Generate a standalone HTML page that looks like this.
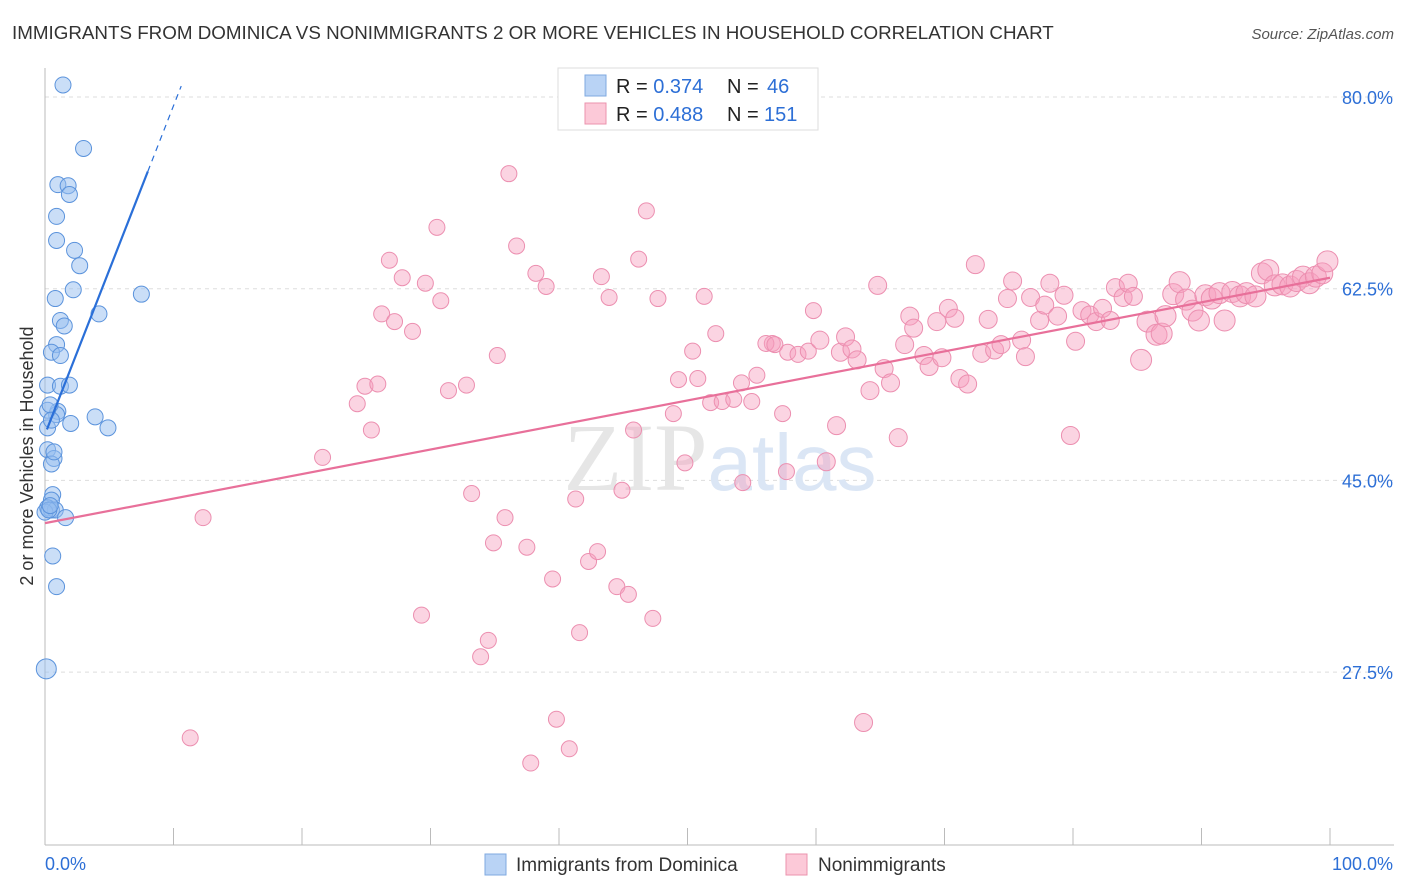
<!DOCTYPE html>
<html><head><meta charset="utf-8"><style>
body{margin:0;background:#fff;font-family:"Liberation Sans",sans-serif;}
svg{display:block}
</style></head><body>
<svg id="chart" width="1406" height="892" xmlns="http://www.w3.org/2000/svg">
<text x="12" y="39" font-size="18.8" fill="#333">IMMIGRANTS FROM DOMINICA VS NONIMMIGRANTS 2 OR MORE VEHICLES IN HOUSEHOLD CORRELATION CHART</text>
<text x="1394" y="39" font-size="15" fill="#555" font-style="italic" text-anchor="end">Source: ZipAtlas.com</text>
<g id="grid"></g>
<text x="720" y="490" font-size="96" text-anchor="middle" fill="#e6e6e6" font-family="Liberation Serif,serif">ZIP<tspan fill="#dbe6f5" font-family="Liberation Sans,sans-serif" font-size="80">atlas</tspan></text>
<g id="marks"></g>
<text transform="translate(33,456) rotate(-90)" font-size="18" fill="#333" text-anchor="middle">2 or more Vehicles in Household</text>
<g>
<rect x="558" y="68" width="260" height="62" fill="#fff" stroke="#ddd"/>
<rect x="585" y="75" width="21" height="21" fill="#b9d3f5" stroke="#7fa9e0"/>
<rect x="585" y="103" width="21" height="21" fill="#fcc9d8" stroke="#eb93ae"/>
<text x="616" y="93" font-size="20" fill="#222">R = <tspan fill="#2d6fd6">0.374</tspan><tspan x="727">N = </tspan><tspan x="767" fill="#2d6fd6">46</tspan></text>
<text x="616" y="121" font-size="20" fill="#222">R = <tspan fill="#2d6fd6">0.488</tspan><tspan x="727">N = </tspan><tspan x="764" fill="#2d6fd6">151</tspan></text>
</g>
<g>
<rect x="485" y="854" width="21" height="21" fill="#b9d3f5" stroke="#7fa9e0"/>
<text x="516" y="871" font-size="19" fill="#333">Immigrants from Dominica</text>
<rect x="786" y="854" width="21" height="21" fill="#fcc9d8" stroke="#eb93ae"/>
<text x="818" y="871" font-size="19" fill="#333">Nonimmigrants</text>
</g>
</svg>
<script>
const yTicks=[80,62.5,45,27.5];
const yTickLabels=["80.0%","62.5%","45.0%","27.5%"];
const blueX=[1.4,3.0,1.0,1.8,1.9,0.9,0.9,2.3,2.7,0.8,2.2,7.5,4.2,1.2,1.5,0.9,0.5,1.2,0.2,1.2,1.9,1.0,0.9,3.9,2.0,4.9,0.2,0.2,0.7,0.5,0.6,0.5,0.2,0.5,0.8,0.0,1.6,0.6,0.9,0.1,0.2,0.4,0.5,0.3,0.4,0.7];
const blueY=[81.1,75.3,72.0,71.9,71.1,69.1,66.9,66.0,64.6,61.6,62.4,62.0,60.2,59.6,59.1,57.4,56.7,56.4,53.7,53.6,53.7,51.3,51.0,50.8,50.2,49.8,49.8,47.8,47.0,46.5,43.7,43.2,42.5,42.3,42.3,42.1,41.6,38.1,35.3,27.8,51.4,51.9,50.5,42.3,42.7,47.6];
const pinkX=[36.1,46.8,30.5,36.7,26.8,46.2,38.2,27.8,43.3,39.0,29.6,43.9,30.8,47.7,51.3,26.2,27.2,28.6,35.2,52.2,50.4,24.9,25.9,24.3,31.4,32.8,25.4,21.6,12.3,33.2,35.8,34.9,37.5,41.3,44.9,39.5,42.3,43.0,44.5,45.4,47.3,29.3,34.5,33.9,41.6,39.8,40.8,37.8,11.3,63.7,45.8,48.9,49.8,49.3,50.8,51.8,52.7,53.6,54.2,55.0,55.4,56.6,56.1,56.8,57.8,58.6,59.4,59.8,60.3,61.6,61.9,62.3,62.8,63.2,64.2,65.3,65.8,66.4,64.8,66.9,67.3,67.6,68.4,68.8,69.4,69.8,70.3,70.8,71.2,71.8,72.4,72.9,73.4,73.9,74.4,74.9,75.3,76.0,76.3,76.7,77.4,77.8,78.2,78.8,79.3,79.8,80.2,80.7,81.3,81.8,82.3,82.9,83.3,83.9,84.3,84.7,85.3,85.8,86.5,86.9,87.2,87.8,88.3,88.8,89.3,89.8,90.3,90.8,91.4,91.8,92.4,93.0,93.5,94.2,94.7,95.2,95.7,96.3,96.9,97.4,97.9,98.4,98.9,99.4,99.8,57.7,54.3,60.8,57.4];
const pinkY=[73.0,69.6,68.1,66.4,65.1,65.2,63.9,63.5,63.6,62.7,63.0,61.7,61.4,61.6,61.8,60.2,59.5,58.6,56.4,58.4,56.8,53.6,53.8,52.0,53.2,53.7,49.6,47.1,41.6,43.8,41.6,39.3,38.9,43.3,44.1,36.0,37.6,38.5,35.3,34.6,32.4,32.7,30.4,28.9,31.1,23.2,20.5,19.2,21.5,22.9,49.6,51.1,46.6,54.2,54.3,52.1,52.2,52.4,53.9,52.2,54.6,57.5,57.5,57.4,56.7,56.5,56.8,60.5,57.8,50.0,56.7,58.1,57.0,56.0,53.2,55.2,53.9,48.9,62.8,57.4,60.0,58.9,56.4,55.4,59.5,56.2,60.7,59.8,54.3,53.8,64.7,56.6,59.7,56.9,57.4,61.6,63.2,57.8,56.3,61.7,59.6,61.0,63.0,60.0,61.9,49.1,57.7,60.5,60.1,59.5,60.7,59.6,62.6,61.7,63.0,61.8,56.0,59.5,58.3,58.4,60.0,62.0,63.1,61.5,60.5,59.6,61.9,61.6,62.1,59.6,62.2,61.8,62.1,61.8,63.9,64.2,62.8,62.9,62.7,63.2,63.6,63.0,63.6,63.9,65.0,45.8,44.8,46.7,51.1];
const blueTrend=[49.2,3.0];
const pinkTrend=[41.1,0.224];
const NS="http://www.w3.org/2000/svg";
const X0=45,X1=1330;
function xs(v){return X0+(X1-X0)*v/100;}
function ys(v){return 97+(80-v)*(191.7/17.5);}
function mk(tag,attrs,parent){const e=document.createElementNS(NS,tag);for(const k in attrs)e.setAttribute(k,attrs[k]);parent.appendChild(e);return e;}
const grid=document.getElementById('grid'),marks=document.getElementById('marks');
yTicks.forEach((t,i)=>{
 const l=mk('line',{x1:45,x2:1394,y1:ys(t),y2:ys(t),stroke:'#ddd','stroke-dasharray':'4,4'},grid);
 
 
 const tx=mk('text',{x:1393,y:ys(t)+7,'font-size':18,fill:'#2d6fd6','text-anchor':'end'},grid);
 tx.textContent=yTickLabels[i];
 
 
});
const ax=mk('line',{x1:45,x2:45,y1:68,y2:845,stroke:'#bbb'},grid);


const bx=mk('line',{x1:45,x2:1394,y1:845,y2:845,stroke:'#bbb'},grid);


for(let i=0;i<=10;i++){const t=mk('line',{x1:xs(i*10),x2:xs(i*10),y1:828,y2:845,stroke:'#bbb'},grid);
 
 }
[["0.0%",45,'start'],["100.0%",1393,'end']].forEach(a=>{const t=mk('text',{x:a[1],y:870,'font-size':18,fill:'#2d6fd6','text-anchor':a[2]},grid);t.textContent=a[0];
 
 });
pinkX.forEach((x,i)=>{const r=x>85?10.5:(x>60?9:8);
 const c=mk('circle',{cx:xs(x),cy:ys(pinkY[i]),r:r,fill:'rgba(246,160,190,0.45)',stroke:'#ec8fb0','stroke-width':1},marks);
 
 });
blueX.forEach((x,i)=>{const r=blueY[i]<30?10:8;
 const c=mk('circle',{cx:xs(x),cy:ys(blueY[i]),r:r,fill:'rgba(150,190,240,0.5)',stroke:'#5b93dc','stroke-width':1},marks);
 
 });
const pl=mk('line',{x1:xs(0),y1:ys(pinkTrend[0]),x2:xs(100),y2:ys(pinkTrend[0]+pinkTrend[1]*100),stroke:'#e8709a','stroke-width':2.2},marks);


const bl=mk('line',{x1:xs(0.15),y1:ys(blueTrend[0]+blueTrend[1]*0.15),x2:xs(8),y2:ys(blueTrend[0]+blueTrend[1]*8),stroke:'#2a6fd8','stroke-width':2.2},marks);


const bd=mk('line',{x1:xs(8),y1:ys(blueTrend[0]+blueTrend[1]*8),x2:xs(10.6),y2:ys(blueTrend[0]+blueTrend[1]*10.6),stroke:'#2a6fd8','stroke-width':1.2,'stroke-dasharray':'6,5'},marks);


</script>
</body></html>
